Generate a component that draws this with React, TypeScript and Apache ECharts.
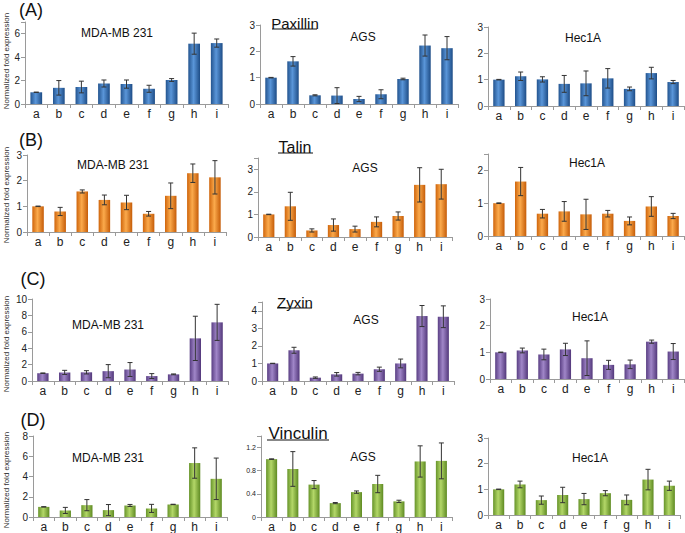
import React, { useEffect, useRef } from "react";
import * as echarts from "echarts";

const categories = ["a", "b", "c", "d", "e", "f", "g", "h", "i"];

// Row A: Paxillin
const paxMDA = [1.0, 1.38, 1.45, 1.75, 1.7, 1.3, 2.05, 5.15, 5.2];
const paxMDAErr = [0.02, 0.62, 0.5, 0.3, 0.35, 0.3, 0.12, 0.9, 0.35];
const paxAGS = [1.0, 1.62, 0.33, 0.32, 0.19, 0.37, 0.95, 2.22, 2.12];
const paxAGSErr = [0.01, 0.18, 0.02, 0.3, 0.1, 0.17, 0.03, 0.4, 0.44];
const paxHec = [1.0, 1.13, 1.01, 0.84, 0.86, 1.05, 0.65, 1.25, 0.91];
const paxHecErr = [0.01, 0.16, 0.1, 0.32, 0.47, 0.37, 0.07, 0.22, 0.06];

// Row B: Talin
const talMDA = [1.0, 0.8, 1.58, 1.25, 1.15, 0.71, 1.41, 2.29, 2.13];
const talMDAErr = [0.01, 0.16, 0.06, 0.19, 0.28, 0.09, 0.5, 0.36, 0.65];
const talAGS = [1.0, 1.36, 0.29, 0.53, 0.35, 0.67, 0.93, 2.31, 2.34];
const talAGSErr = [0.01, 0.62, 0.07, 0.27, 0.13, 0.22, 0.18, 0.76, 0.66];
const talHec = [1.0, 1.66, 0.68, 0.75, 0.66, 0.68, 0.46, 0.9, 0.61];
const talHecErr = [0.01, 0.43, 0.13, 0.3, 0.46, 0.1, 0.12, 0.3, 0.08];

// Row C: Zyxin
const zyxMDA = [0.95, 1.05, 1.06, 1.2, 1.4, 0.6, 0.81, 5.2, 7.15];
const zyxMDAErr = [0.03, 0.25, 0.2, 0.8, 0.85, 0.3, 0.05, 2.7, 2.2];
const zyxAGS = [1.0, 1.75, 0.19, 0.38, 0.42, 0.67, 1.0, 3.7, 3.66];
const zyxAGSErr = [0.01, 0.17, 0.04, 0.1, 0.07, 0.12, 0.25, 0.6, 0.62];
const zyxHec = [1.0, 1.07, 0.92, 1.11, 0.78, 0.53, 0.55, 1.4, 1.03];
const zyxHecErr = [0.01, 0.09, 0.2, 0.23, 0.65, 0.17, 0.16, 0.06, 0.3];

// Row D: Vinculin
const vinMDA = [1.0, 0.65, 1.17, 0.68, 1.14, 0.85, 1.24, 5.33, 3.77];
const vinMDAErr = [0.02, 0.3, 0.55, 0.55, 0.1, 0.4, 0.02, 1.5, 2.05];
const vinAGS = [1.0, 0.83, 0.56, 0.24, 0.43, 0.57, 0.27, 0.96, 0.97];
const vinAGSErr = [0.005, 0.3, 0.07, 0.01, 0.02, 0.15, 0.02, 0.27, 0.31];
const vinHec = [1.0, 1.19, 0.58, 0.78, 0.62, 0.85, 0.59, 1.38, 1.14];
const vinHecErr = [0.01, 0.13, 0.16, 0.3, 0.22, 0.1, 0.19, 0.4, 0.18];

const FONT = "Liberation Sans, Arial, sans-serif";

const palettes = {
  blue: ["#23548f", "#5a96d9", "#1d4c86"],
  orange: ["#cf650c", "#fbaa4c", "#c55c08"],
  purple: ["#5a3f84", "#a086c8", "#52377a"],
  green: ["#67942a", "#b3d768", "#5e8a22"],
};

type Panel = {
  left: number; top: number; width: number; height: number;
  max: number; interval: number; values: number[]; errs: number[];
  color: keyof typeof palettes; labelSize: number;
};

const panels: Panel[] = [
  { left: 25, top: 22, width: 203, height: 82, max: 7, interval: 2, values: paxMDA, errs: paxMDAErr, color: "blue", labelSize: 10 },
  { left: 260, top: 25, width: 198, height: 79, max: 3, interval: 1, values: paxAGS, errs: paxAGSErr, color: "blue", labelSize: 10 },
  { left: 488, top: 27, width: 196, height: 79, max: 3, interval: 1, values: paxHec, errs: paxHecErr, color: "blue", labelSize: 10 },
  { left: 27, top: 155, width: 199, height: 77, max: 3, interval: 1, values: talMDA, errs: talMDAErr, color: "orange", labelSize: 10 },
  { left: 258, top: 158, width: 194, height: 79, max: 3.5, interval: 1, values: talAGS, errs: talAGSErr, color: "orange", labelSize: 10 },
  { left: 488, top: 154, width: 196, height: 82, max: 2.5, interval: 1, values: talHec, errs: talHecErr, color: "orange", labelSize: 10 },
  { left: 32, top: 299, width: 196, height: 82, max: 10, interval: 2, values: zyxMDA, errs: zyxMDAErr, color: "purple", labelSize: 10 },
  { left: 262, top: 302, width: 192, height: 79, max: 4.5, interval: 1, values: zyxAGS, errs: zyxAGSErr, color: "purple", labelSize: 10 },
  { left: 490, top: 299, width: 194, height: 80, max: 3, interval: 1, values: zyxHec, errs: zyxHecErr, color: "purple", labelSize: 10 },
  { left: 33, top: 436, width: 194, height: 82, max: 8, interval: 2, values: vinMDA, errs: vinMDAErr, color: "green", labelSize: 10 },
  { left: 261, top: 436, width: 191, height: 81, max: 1.4, interval: 0.4, values: vinAGS, errs: vinAGSErr, color: "green", labelSize: 7 },
  { left: 488, top: 438, width: 192, height: 77, max: 3, interval: 1, values: vinHec, errs: vinHecErr, color: "green", labelSize: 10 },
];

const cellTitles = [
  { text: "MDA-MB 231", x: 117, y: 33 },
  { text: "AGS", x: 363, y: 37 },
  { text: "Hec1A", x: 583, y: 38 },
  { text: "MDA-MB 231", x: 113, y: 165 },
  { text: "AGS", x: 365, y: 168 },
  { text: "Hec1A", x: 587, y: 163 },
  { text: "MDA-MB 231", x: 108, y: 325 },
  { text: "AGS", x: 366, y: 320 },
  { text: "Hec1A", x: 590, y: 317 },
  { text: "MDA-MB 231", x: 108, y: 458 },
  { text: "AGS", x: 363, y: 457 },
  { text: "Hec1A", x: 590, y: 458 },
];

const geneTitles = [
  { text: "Paxillin", x: 295, base: 28, size: 15, ux1: 272, ux2: 317 },
  { text: "Talin", x: 295, base: 152, size: 16, ux1: 278, ux2: 313 },
  { text: "Zyxin", x: 295, base: 307, size: 15, ux1: 277, ux2: 312 },
  { text: "Vinculin", x: 298, base: 439, size: 17, ux1: 267, ux2: 329 },
];

const panelLetters = [
  { text: "(A)", x: 31, y: 10 },
  { text: "(B)", x: 31, y: 140 },
  { text: "(C)", x: 33, y: 279 },
  { text: "(D)", x: 33, y: 420 },
];

const yNameCenters = [61, 195, 344, 480];

export default function App() {
  const ref = useRef<HTMLDivElement>(null);
  useEffect(() => {
    if (!ref.current) return;
    const chart = echarts.init(ref.current, null, { renderer: "svg" });
    const axisColor = "#9a9a9a";
    const grid = panels.map((p) => ({ left: p.left, top: p.top, width: p.width, height: p.height, containLabel: false }));
    const xAxis = panels.map((p, k) => ({
      type: "category", gridIndex: k, data: categories,
      axisLine: { lineStyle: { color: axisColor, width: 1 } },
      axisTick: { show: true, length: 4, lineStyle: { color: axisColor } },
      axisLabel: { color: "#222", fontSize: 12, margin: 4, fontFamily: FONT },
    }));
    const yAxis = panels.map((p, k) => ({
      type: "value", gridIndex: k, min: 0, max: p.max, interval: p.interval,
      splitLine: { show: false },
      axisLine: { show: true, lineStyle: { color: axisColor, width: 1 } },
      axisTick: { show: true, length: 4, lineStyle: { color: axisColor } },
      axisLabel: {
        color: "#222", fontSize: p.labelSize, margin: 5, fontFamily: FONT,
        formatter: (v: number) => {
          const r = v / p.interval;
          return Math.abs(r - Math.round(r)) < 1e-6 ? String(Math.round(v * 10) / 10) : "";
        },
      },
    }));
    const series: any[] = [];
    panels.forEach((p, k) => {
      const pal = palettes[p.color];
      series.push({
        type: "bar", xAxisIndex: k, yAxisIndex: k, data: p.values, barWidth: "52%",
        itemStyle: {
          color: new echarts.graphic.LinearGradient(0, 0, 1, 0, [
            { offset: 0, color: pal[0] },
            { offset: 0.45, color: pal[1] },
            { offset: 1, color: pal[2] },
          ]),
        },
      });
      series.push({
        type: "custom", xAxisIndex: k, yAxisIndex: k, z: 5,
        data: p.values.map((v, i) => [i, v, p.errs[i]]),
        encode: { x: 0, y: 1 },
        renderItem: (params: any, api: any) => {
          const idx = api.value(0), m = api.value(1), e = api.value(2);
          const top = api.coord([idx, m + e]);
          const bot = api.coord([idx, Math.max(0, m - e)]);
          const w = 2.5;
          const st = { stroke: "#333", lineWidth: 1 };
          return {
            type: "group",
            children: [
              { type: "line", shape: { x1: top[0], y1: top[1], x2: bot[0], y2: bot[1] }, style: st },
              { type: "line", shape: { x1: top[0] - w, y1: top[1], x2: top[0] + w, y2: top[1] }, style: st },
              { type: "line", shape: { x1: bot[0] - w, y1: bot[1], x2: bot[0] + w, y2: bot[1] }, style: st },
            ],
          };
        },
      });
    });

    const graphic: any[] = [];
    cellTitles.forEach((t) => {
      graphic.push({
        type: "text", x: t.x, y: t.y,
        style: { text: t.text, fontSize: 12, fontFamily: FONT, fill: "#111", textAlign: "center", textVerticalAlign: "middle", align: "center", verticalAlign: "middle" },
      });
    });
    geneTitles.forEach((g) => {
      graphic.push({
        type: "text", x: g.x, y: g.base + 0.2 * g.size,
        style: { text: g.text, fontSize: g.size, fontFamily: FONT, fill: "#111", textAlign: "center", textVerticalAlign: "bottom", align: "center", verticalAlign: "bottom" },
      });
      graphic.push({
        type: "line", shape: { x1: g.ux1, y1: g.base + 1, x2: g.ux2, y2: g.base + 1 },
        style: { stroke: "#111", lineWidth: 1.2 },
      });
    });
    panelLetters.forEach((l) => {
      graphic.push({
        type: "text", x: l.x, y: l.y,
        style: { text: l.text, fontSize: 18, fontFamily: FONT, fill: "#111", textAlign: "center", textVerticalAlign: "middle", align: "center", verticalAlign: "middle" },
      });
    });
    yNameCenters.forEach((cy) => {
      graphic.push({
        type: "text", x: 6, y: cy, rotation: Math.PI / 2,
        style: { text: "Normalized fold expression", fontSize: 8, fontFamily: FONT, fill: "#333", textAlign: "center", textVerticalAlign: "middle", align: "center", verticalAlign: "middle" },
      });
    });

    chart.setOption({
      animation: false,
      backgroundColor: "#ffffff",
      grid, xAxis, yAxis, series, graphic,
    });
    return () => chart.dispose();
  }, []);
  return <div ref={ref} style={{ position: "absolute", left: 0, top: 0, width: 685, height: 533 }} />;
}
